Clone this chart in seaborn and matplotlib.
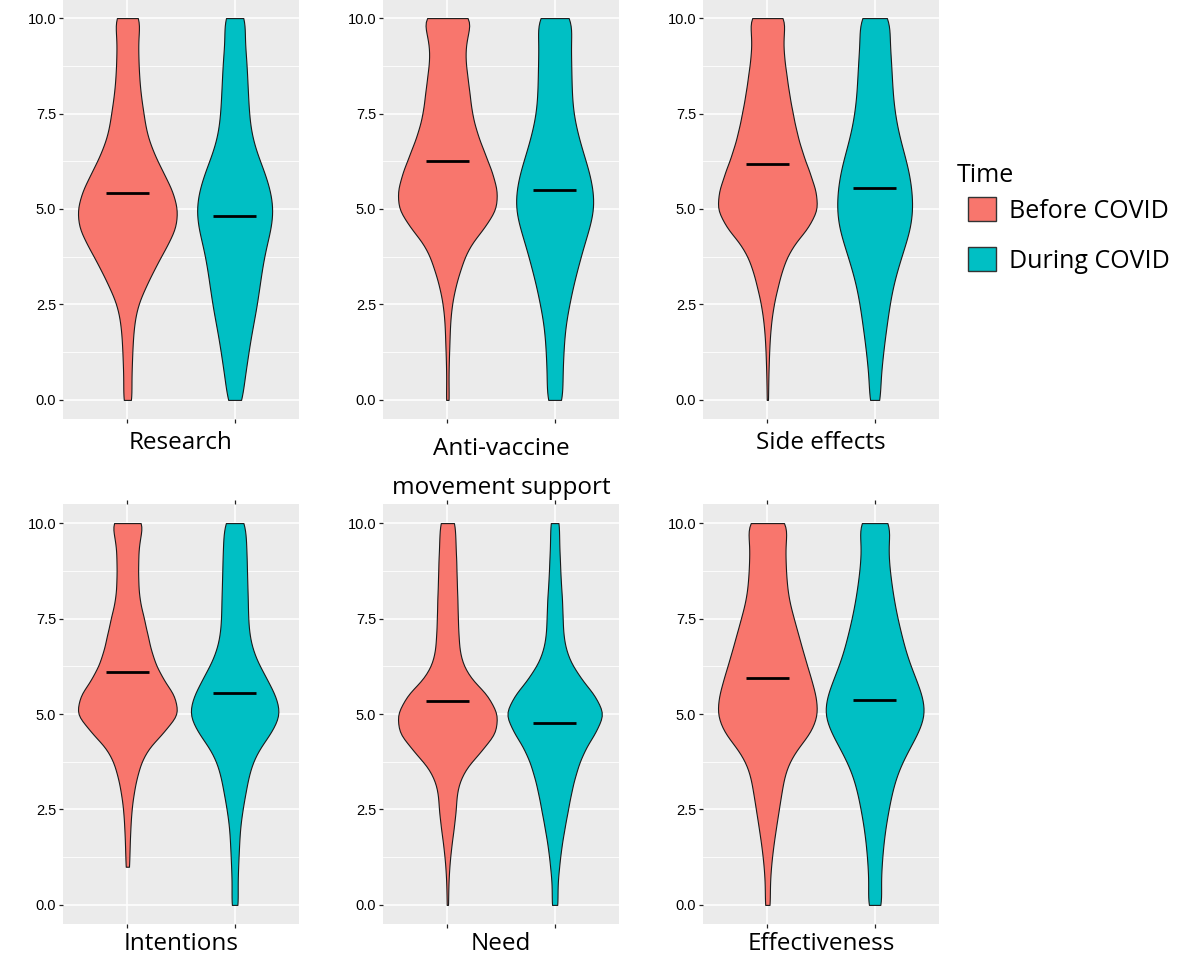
import numpy as np
import pandas as pd
import matplotlib.pyplot as plt
import seaborn as sns
from matplotlib.patches import Patch
from matplotlib.ticker import MultipleLocator, FormatStrFormatter

# Score grid (0 to 10 in half points) and estimated number of answers at each score
scores = [0, 0.5, 1, 1.5, 2, 2.5, 3, 3.5, 4, 4.5, 5,
          5.5, 6, 6.5, 7, 7.5, 8, 8.5, 9, 9.5, 10]

times = ['Before COVID', 'During COVID']
colors = ['#F8766D', '#00BFC4']

panels = ['Research', 'Anti-vaccine\nmovement support', 'Side effects',
          'Intentions', 'Need', 'Effectiveness']

research_before = [26, 22, 26, 30, 38, 58, 107, 160, 220, 278, 287, 255, 198, 145, 107, 92, 75, 66, 62, 60, 78]
research_during = [44, 53, 70, 85, 105, 125, 140, 155, 175, 205, 218, 200, 165, 120, 91, 80, 75, 70, 65, 52, 68]

antivax_before = [9, 6, 8, 12, 15, 25, 47, 80, 120, 210, 285, 287, 254, 210, 168, 140, 128, 114, 100, 110, 150]
antivax_during = [52, 45, 50, 55, 65, 87, 110, 140, 170, 207, 237, 230, 205, 167, 135, 110, 102, 100, 98, 94, 117]

side_before = [4, 5, 8, 12, 20, 35, 60, 88, 135, 230, 288, 273, 235, 195, 165, 143, 123, 108, 93, 88, 107]
side_during = [34, 32, 43, 55, 70, 85, 105, 135, 170, 205, 218, 212, 195, 165, 135, 115, 103, 98, 92, 83, 94]

intentions_before = [0, 0, 10, 12, 16, 22, 36, 58, 95, 190, 282, 255, 180, 136, 112, 90, 64, 58, 58, 62, 91]
intentions_during = [21, 16, 20, 25, 30, 45, 65, 85, 125, 210, 270, 235, 175, 115, 85, 77, 76, 72, 70, 66, 62]

need_before = [4, 5, 10, 20, 34, 46, 50, 85, 175, 263, 272, 217, 110, 68, 60, 56, 54, 50, 48, 43, 42]
need_during = [18, 15, 25, 37, 55, 75, 95, 122, 160, 227, 285, 225, 135, 73, 49, 45, 42, 34, 30, 25, 26]

effect_before = [16, 13, 20, 32, 48, 65, 82, 100, 150, 248, 290, 275, 243, 210, 180, 150, 120, 108, 103, 100, 124]
effect_during = [42, 32, 37, 45, 57, 75, 95, 125, 175, 235, 277, 257, 215, 175, 148, 123, 103, 88, 76, 72, 94]

counts_before = [research_before, antivax_before, side_before,
                 intentions_before, need_before, effect_before]
counts_during = [research_during, antivax_during, side_during,
                 intentions_during, need_during, effect_during]

# mean scores (black bars)
means_before = [5.42, 6.27, 6.17, 6.10, 5.35, 5.94]
means_during = [4.82, 5.51, 5.54, 5.55, 4.77, 5.37]

W, H = 1181, 965
fig = plt.figure(figsize=(W / 100, H / 100), dpi=100)
fig.patch.set_facecolor('white')

lefts = [63, 383, 703]
rows = [(-1, 419), (504, 924)]   # top, bottom in pixels
pw = 236

for i, name in enumerate(panels):
    r, c = divmod(i, 3)
    top, bot = rows[r]
    ax = fig.add_axes([lefts[c] / W, 1 - bot / H, pw / W, (bot - top) / H])

    vals = np.concatenate([np.repeat(scores, counts_before[i]),
                           np.repeat(scores, counts_during[i])])
    labs = (['Before COVID'] * int(np.sum(counts_before[i]))
            + ['During COVID'] * int(np.sum(counts_during[i])))
    df = pd.DataFrame({'Time': labs, 'Score': vals})

    sns.violinplot(data=df, x='Time', y='Score', hue='Time', order=times,
                   hue_order=times, palette=colors, saturation=1, cut=0,
                   inner=None, density_norm='area', common_norm=True,
                   bw_method=0.155, width=0.92, linewidth=0.8,
                   linecolor='#1a1a1a', legend=False, ax=ax)

    ax.hlines([means_before[i], means_during[i]], [-0.2, 0.8], [0.2, 1.2],
              color='black', lw=2, zorder=4)

    ax.set_facecolor('#EBEBEB')
    ax.set_xlim(-0.6, 1.6)
    ax.set_ylim(-0.5, 10.5)
    ax.yaxis.set_major_locator(MultipleLocator(2.5))
    ax.yaxis.set_minor_locator(MultipleLocator(1.25))
    ax.yaxis.set_major_formatter(FormatStrFormatter('%.1f'))
    ax.set_axisbelow(True)
    ax.grid(which='major', color='white', lw=1.1)
    ax.grid(which='minor', axis='y', color='white', lw=0.6)
    for s in ax.spines.values():
        s.set_visible(False)
    ax.tick_params(axis='both', which='major', length=3, width=0.9,
                   color='#222222', labelsize=10.5, pad=2,
                   labelcolor='black')
    ax.tick_params(axis='y', which='minor', length=0)
    ax.tick_params(axis='x', labelbottom=False, top=(r == 1))
    for lab in ax.get_yticklabels():
        lab.set_family('Liberation Sans')
    ax.set_ylabel('')
    pad = 5.5 if r == 0 else 2.5
    if '\n' in name:
        pad = 10
    ax.set_xlabel(name, fontsize=17.5, family='Open Sans', labelpad=pad,
                  linespacing=1.85, color='black')

fig.text(957 / W, 1 - 175 / H, 'Time', family='Open Sans', size=18,
         ha='left', va='center')
handles = [Patch(facecolor=colors[0], edgecolor='#333333', lw=1),
           Patch(facecolor=colors[1], edgecolor='#333333', lw=1)]
leg = fig.legend(handles, times, loc='upper left',
                 bbox_to_anchor=(968 / W, 1 - 197 / H), frameon=False,
                 handlelength=1.1, handleheight=1.1, labelspacing=0.95,
                 handletextpad=0.55, borderaxespad=0, borderpad=0,
                 prop={'family': 'Open Sans', 'size': 18})

fig.savefig('out.png', dpi=100)
